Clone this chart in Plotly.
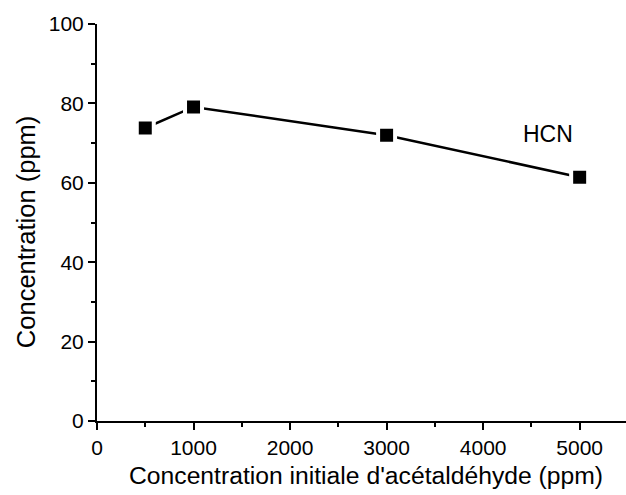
import plotly.graph_objects as go

# HCN concentration measured vs. initial acetaldehyde concentration
acetaldehyde_ppm = [500, 1000, 3000, 5000]
hcn_ppm = [73.8, 79.1, 72.0, 61.4]
series_label = "HCN"
x_title = "Concentration initiale d'acétaldéhyde (ppm)"
y_title = "Concentration (ppm)"

FONT = "Liberation Sans, Arial, sans-serif"

fig = go.Figure()
fig.add_trace(go.Scatter(
    x=acetaldehyde_ppm,
    y=hcn_ppm,
    mode="lines+markers",
    line=dict(color="black", width=2.5),
    # white outline leaves a small gap between line and square marker
    marker=dict(symbol="square", size=17, color="black",
                line=dict(color="white", width=4)),
    showlegend=False,
    cliponaxis=False,
))

fig.add_annotation(x=4670, y=72.3, text=series_label, showarrow=False,
                   font=dict(family=FONT, size=23, color="black"))

# axis titles placed as paper-anchored annotations
fig.add_annotation(xref="paper", yref="paper", x=0.5085, y=-0.137,
                   text=x_title, showarrow=False,
                   xanchor="center", yanchor="middle",
                   font=dict(family=FONT, size=24.7, color="black"))
fig.add_annotation(xref="paper", yref="paper", x=-0.134, y=0.476,
                   text=y_title, showarrow=False, textangle=-90,
                   xanchor="center", yanchor="middle",
                   font=dict(family=FONT, size=25.5, color="black"))

axis_common = dict(
    showline=True, linecolor="black", linewidth=2,
    ticks="outside", ticklen=7, tickwidth=2, tickcolor="black",
    showgrid=False, zeroline=False, mirror=False,
    tickfont=dict(family=FONT, size=21, color="black"),
)

fig.update_xaxes(
    range=[0, 5480], dtick=1000, tick0=0,
    minor=dict(dtick=500, tick0=0, ticks="outside", ticklen=4,
               tickwidth=2, tickcolor="black", showgrid=False),
    **axis_common,
)
fig.update_yaxes(
    range=[0, 100], dtick=20, tick0=0,
    minor=dict(dtick=10, tick0=0, ticks="outside", ticklen=4,
               tickwidth=2, tickcolor="black", showgrid=False),
    **axis_common,
)

fig.update_layout(
    width=626, height=495,
    margin=dict(l=97, r=0, t=24, b=74),
    paper_bgcolor="white", plot_bgcolor="white",
)

fig.write_html("out.html")
